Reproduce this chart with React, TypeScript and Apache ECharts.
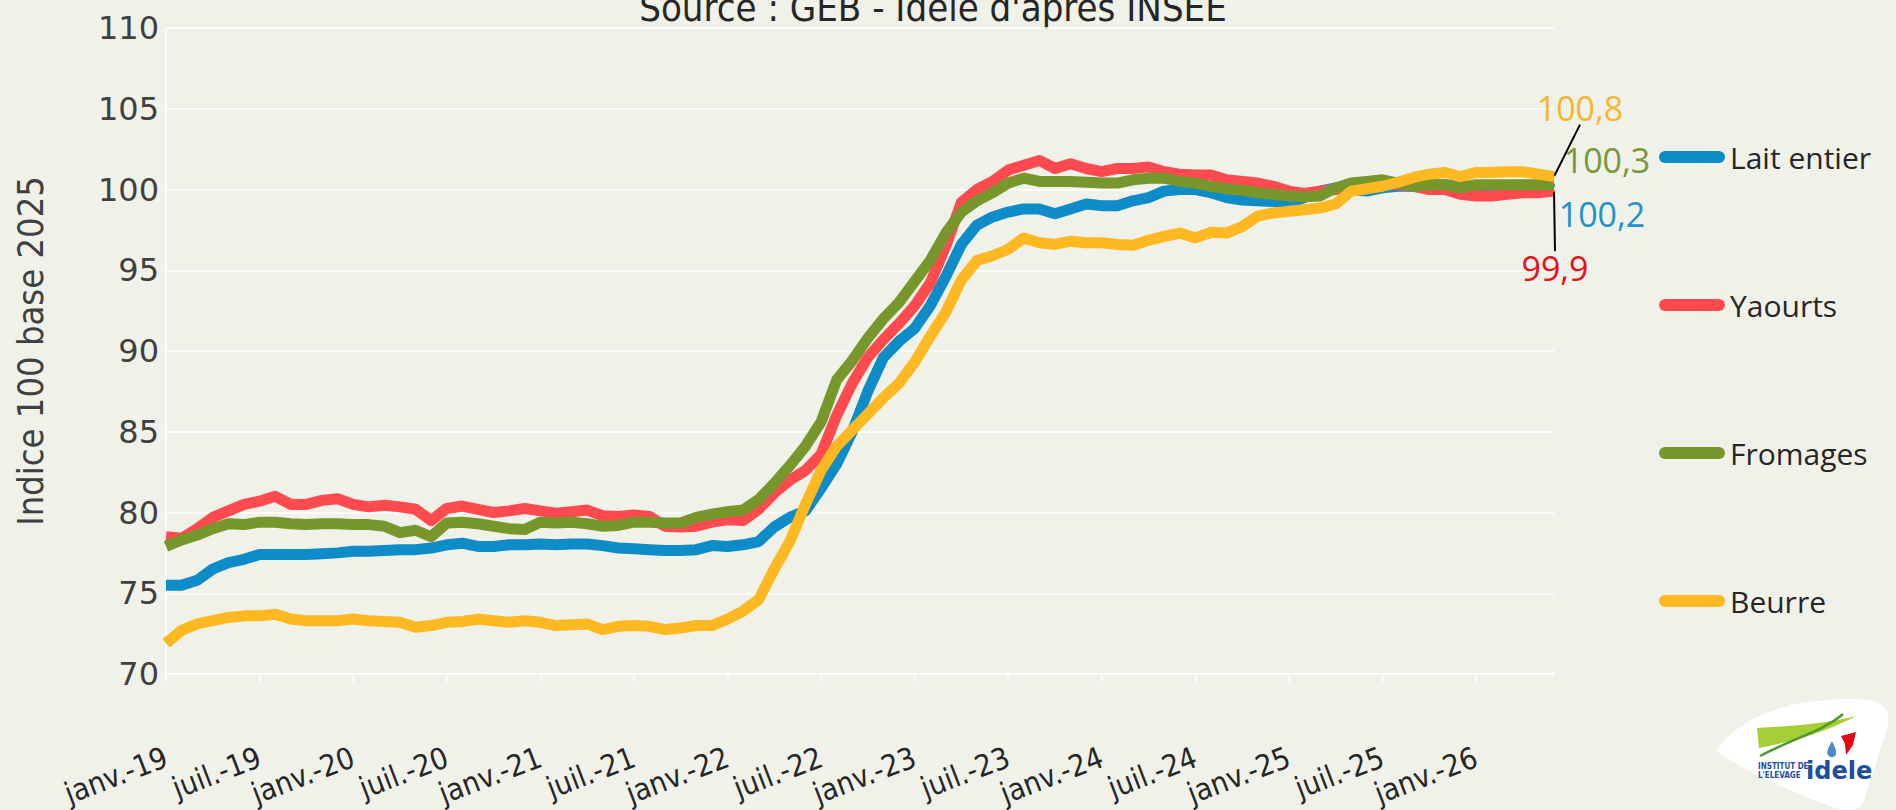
import React, { useEffect, useRef } from "react";
import * as echarts from "echarts";

// ---------- DATA ----------
const MONTHS = ["janv.", "févr.", "mars", "avr.", "mai", "juin", "juil.", "août", "sept.", "oct.", "nov.", "déc."];
const YEARS = ["19", "20", "21", "22", "23", "24", "25", "26"];
const N_POINTS = 90; // janv.-19 .. juin-26
const CATEGORIES = YEARS.flatMap((y) => MONTHS.map((m) => `${m}-${y}`)).slice(0, N_POINTS);

const SERIES_NAMES = ["Lait entier", "Yaourts", "Fromages", "Beurre"];

const LAIT = [
  75.5, 75.5, 75.8, 76.5, 76.9, 77.1, 77.4, 77.4, 77.4, 77.4, 77.45, 77.5,
  77.6, 77.6, 77.65, 77.7, 77.7, 77.8, 78.0, 78.1, 77.9, 77.9, 78.0, 78.0,
  78.05, 78.0, 78.05, 78.05, 77.95, 77.8, 77.75, 77.7, 77.65, 77.65, 77.7, 77.95,
  77.9, 78.0, 78.2, 79.1, 79.7, 80.1, 81.5, 83.0, 85.0, 87.5, 89.6, 90.6,
  91.4, 92.8, 94.6, 96.6, 97.8, 98.3, 98.6, 98.8, 98.8, 98.5, 98.8, 99.1,
  99.0, 99.0, 99.3, 99.5, 99.9, 100.0, 100.0, 99.8, 99.5, 99.35, 99.3, 99.25,
  99.15, 99.5, 99.9, 100.1, 100.0, 99.9, 100.1, 100.2, 100.2, 100.3, 100.3, 100.2,
  100.2, 100.2, 100.2, 100.2, 100.2, 100.2,
];

const YAOURTS = [
  78.5, 78.4, 79.0, 79.7, 80.1, 80.5, 80.7, 81.0, 80.5, 80.5, 80.75, 80.85,
  80.5, 80.35, 80.45, 80.35, 80.2, 79.5, 80.25, 80.4, 80.2, 80.0, 80.1, 80.25,
  80.1, 79.95, 80.05, 80.15, 79.8, 79.75, 79.85, 79.75, 79.15, 79.1, 79.15, 79.4,
  79.55, 79.5, 80.2, 81.2, 82.0, 82.6, 83.6, 86.0, 88.0, 89.6, 90.7, 91.7,
  92.8, 94.2, 96.5, 99.2, 100.0, 100.5, 101.2, 101.5, 101.8, 101.3, 101.6, 101.3,
  101.1, 101.3, 101.3, 101.4, 101.1, 100.95, 100.9, 100.9, 100.6, 100.5, 100.4, 100.2,
  99.9, 99.75, 99.9, 100.0, 100.1, 100.3, 100.4, 100.3, 100.2, 100.0, 100.0, 99.7,
  99.6, 99.6, 99.7, 99.8, 99.8, 99.9,
];

const FROMAGES = [
  77.9, 78.3, 78.6, 79.0, 79.3, 79.25, 79.4, 79.4, 79.3, 79.25, 79.3, 79.3,
  79.25, 79.25, 79.15, 78.75, 78.9, 78.5, 79.35, 79.4, 79.3, 79.15, 79.0, 78.95,
  79.4, 79.35, 79.4, 79.3, 79.15, 79.2, 79.4, 79.4, 79.35, 79.35, 79.7, 79.9,
  80.05, 80.15, 80.8, 81.8, 82.9, 84.1, 85.6, 88.2, 89.4, 90.8, 92.0, 93.0,
  94.3, 95.6, 97.3, 98.6, 99.3, 99.8, 100.4, 100.7, 100.5, 100.5, 100.5, 100.45,
  100.4, 100.4, 100.6, 100.7, 100.7, 100.5, 100.4, 100.2, 100.05, 99.95, 99.8, 99.7,
  99.6, 99.55, 99.6, 100.1, 100.4, 100.5, 100.6, 100.4, 100.2, 100.3, 100.3, 100.1,
  100.3, 100.3, 100.3, 100.3, 100.3, 100.3,
];

const BEURRE = [
  71.9, 72.7, 73.1, 73.3, 73.5, 73.6, 73.6, 73.7, 73.4, 73.3, 73.3, 73.3,
  73.4, 73.3, 73.25, 73.2, 72.9, 73.0, 73.2, 73.25, 73.4, 73.3, 73.2, 73.3,
  73.2, 73.0, 73.05, 73.1, 72.75, 72.95, 73.0, 72.95, 72.75, 72.85, 73.0, 73.0,
  73.4, 73.9, 74.6, 76.5, 78.2, 80.5, 82.6, 84.1, 85.1, 86.1, 87.1, 88.0,
  89.3, 90.9, 92.4, 94.4, 95.6, 95.9, 96.3, 97.0, 96.7, 96.6, 96.8, 96.7,
  96.7, 96.6, 96.55, 96.85, 97.1, 97.3, 97.0, 97.35, 97.3, 97.7, 98.35, 98.55,
  98.65, 98.75, 98.85, 99.1, 99.9, 100.05, 100.2, 100.45, 100.75, 100.95, 101.05, 100.8,
  101.05, 101.05, 101.1, 101.1, 100.95, 100.8,
];

const Y_MIN = 70;
const Y_MAX = 110;
const Y_STEP = 5;

// ---------- STYLE ----------
const BG = "#F0F1E9";
const COND = "'DejaVu Sans Condensed', 'Liberation Sans Narrow', 'DejaVu Sans', sans-serif";
const ROUND = "'Open Sans', 'Noto Sans', sans-serif";
const COLORS = ["#0E8CC8", "#FF4B4F", "#77962B", "#FDB822"];
const LABEL_COLORS = ["#1E93CC", "#E8101A", "#78983A", "#F6B730"];

const frFormat = (v: number) => String(v).replace(".", ",");

function makeSeries(idx: number, values: number[], dx: number, dy: number, guide: boolean) {
  const last = values.length - 1;
  return {
    name: SERIES_NAMES[idx],
    type: "line",
    data: values.map((v, i) =>
      i === last ? { value: v, symbol: "circle", symbolSize: 2, label: { show: true } } : v
    ),
    symbol: "none",
    showSymbol: true,
    showAllSymbol: true,
    clip: false,
    z: 2 + idx,
    lineStyle: { width: 11, color: COLORS[idx], join: "round" },
    itemStyle: { color: COLORS[idx] },
    label: {
      show: false,
      position: "inside",
      formatter: (p: any) => frFormat(p.value),
      color: LABEL_COLORS[idx],
      fontSize: 34,
      fontFamily: ROUND,
    },
    labelLayout: { dx, dy },
    labelLine: { show: guide, lineStyle: { color: "#000000", width: 2 } },
    emphasis: { disabled: true },
  };
}

export default function App() {
  const ref = useRef<HTMLDivElement>(null);

  useEffect(() => {
    if (!ref.current) return;
    echarts.graphic.registerShape(
      "ideleBg",
      echarts.graphic.extendPath(
        "M 1716 751 C 1742 714 1788 701 1845 699 C 1880 698 1893 706 1887 729 L 1864 800 C 1860 811 1850 813 1838 809 C 1792 792 1750 774 1716 751 Z",
        {}
      )
    );
    echarts.graphic.registerShape(
      "ideleLeaf",
      echarts.graphic.extendPath(
        "M 1757 728 C 1790 726 1825 724 1856 716 C 1830 730 1800 740 1759 748 Z",
        {}
      )
    );
    echarts.graphic.registerShape(
      "ideleRed",
      echarts.graphic.extendPath("M 1841 736 L 1856 732 L 1853 745 L 1846 755 L 1845 744 Z", {})
    );
    echarts.graphic.registerShape(
      "ideleDrop",
      echarts.graphic.extendPath("M 1832 741 C 1829 747 1826 751 1828 755 C 1830 758 1835 758 1836 754 C 1837 750 1834 746 1832 741 Z", {})
    );

    const chart = echarts.init(ref.current, undefined, { renderer: "svg" });
    const option: any = {
      animation: false,
      backgroundColor: BG,
      grid: { left: 166, right: 342, top: 28, bottom: 136 },
      xAxis: {
        type: "category",
        data: CATEGORIES,
        boundaryGap: false,
        axisLine: { show: true, lineStyle: { color: "#FFFFFF", width: 1.5 } },
        axisTick: { show: true, interval: 5, length: 8, lineStyle: { color: "#FFFFFF", width: 1.5 } },
        axisLabel: {
          interval: 5,
          rotate: 21,
          margin: 82,
          color: "#262626",
          fontSize: 30,
          fontFamily: COND,
        },
        splitLine: { show: false },
      },
      yAxis: {
        type: "value",
        min: Y_MIN,
        max: Y_MAX,
        interval: Y_STEP,
        name: "Indice 100 base 2025",
        nameLocation: "middle",
        nameGap: 118,
        nameRotate: 90,
        nameTextStyle: { color: "#404040", fontSize: 36, fontFamily: COND },
        axisLine: { show: true, lineStyle: { color: "#FFFFFF", width: 1.5 } },
        axisTick: { show: false },
        axisLabel: { color: "#404040", fontSize: 32, fontFamily: "'DejaVu Sans', sans-serif", margin: 7 },
        splitLine: { lineStyle: { color: "#FFFFFF", width: 1.5 } },
      },
      legend: {
        data: SERIES_NAMES,
        orient: "vertical",
        left: 1659,
        top: 142,
        padding: 0,
        itemWidth: 66,
        itemHeight: 12,
        itemGap: 118,
        icon: "path://M6,0 L60,0 A6,6 0 0 1 60,12 L6,12 A6,6 0 0 1 6,0 Z",
        textStyle: { color: "#262626", fontSize: 30, fontFamily: ROUND },
        selectedMode: false,
      },
      series: [
        makeSeries(0, LAIT, 48, 28, false),
        makeSeries(1, YAOURTS, 1, 77, true),
        makeSeries(2, FROMAGES, 53, -25, false),
        makeSeries(3, BEURRE, 26, -69, true),
      ],
      graphic: [
        {
          type: "text",
          x: 933,
          y: 8,
          style: {
            text: "Source : GEB - Idele d'après INSEE",
            fontSize: 38,
            fontFamily: COND,
            fill: "#262626",
            align: "center",
            verticalAlign: "middle",
          },
        },
        { type: "ideleBg", x: 0, y: 0, style: { fill: "#FFFFFF" } },
        { type: "ideleLeaf", x: 0, y: 0, style: { fill: "#A6CE39" } },
        {
          type: "bezierCurve",
          shape: { x1: 1760, y1: 756, x2: 1843, y2: 714, cpx1: 1790, cpy1: 740, cpx2: 1825, cpy2: 730 },
          style: { stroke: "#4E9A2E", lineWidth: 2.5, fill: "none" },
        },
        { type: "ideleRed", x: 0, y: 0, style: { fill: "#E30613" } },
        { type: "ideleDrop", x: 0, y: 0, style: { fill: "#4A88C8" } },
        {
          type: "text",
          x: 1758,
          y: 766,
          style: { text: "INSTITUT DE", fontSize: 8, fontWeight: "bold", fontFamily: COND, fill: "#1E4E9E", verticalAlign: "middle" },
        },
        {
          type: "text",
          x: 1758,
          y: 775,
          style: { text: "L'ELEVAGE", fontSize: 8, fontWeight: "bold", fontFamily: COND, fill: "#1E4E9E", verticalAlign: "middle" },
        },
        {
          type: "text",
          x: 1806,
          y: 771,
          style: { text: "idele", fontSize: 24, fontWeight: "bold", fontFamily: "'DejaVu Sans', sans-serif", fill: "#1E4E9E", verticalAlign: "middle" },
        },
      ],
    };
    chart.setOption(option);
    return () => chart.dispose();
  }, []);

  return (
    <div style={{ position: "fixed", left: 0, top: 0, width: 1896, height: 810, background: BG }}>
      <div ref={ref} style={{ width: 1896, height: 810 }} />
    </div>
  );
}
